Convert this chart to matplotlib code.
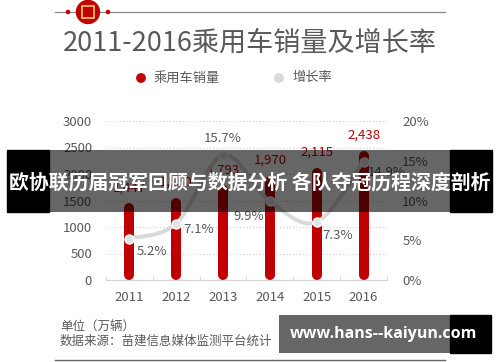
import numpy as np
import matplotlib
matplotlib.use('Agg')
import matplotlib.pyplot as plt
from matplotlib.patches import Rectangle, Circle, PathPatch
from matplotlib.path import Path

plt.rcParams['font.family'] = ['Noto Sans CJK SC', 'DejaVu Sans']

years = ['2011', '2012', '2013', '2014', '2015', '2016']
sales = [1447, 1550, 1793, 1970, 2115, 2438]
sales_labels = ['1,447', '1,550', '1,793', '1,970', '2,115', '2,438']
growth = [5.2, 7.1, 15.7, 9.9, 7.3, 14.9]
left_ticks = [0, 500, 1000, 1500, 2000, 2500, 3000]
right_ticks = [0, 5, 10, 15, 20]

W, H = 500, 362
RED = '#c00000'
GRAY_TXT = '#595959'
LINE_GRAY = '#d4d4d4'

fig = plt.figure(figsize=(5, 3.62), dpi=100)
fig.patch.set_facecolor('white')
inch = fig.dpi_scale_trans


def P(x, y):
    # pixel position (top-left origin) -> inches for dpi_scale_trans
    return x / 100, (H - y) / 100


ax = fig.add_axes([106 / W, 1 - 280 / H, 281 / W, 159 / H])
ax.set_xlim(-0.5, 5.5)
ax.set_ylim(0, 3000)
x = np.arange(len(years))

# bars as thick rounded lines
r = 3000 / 159 * 5
vl = ax.vlines(x, r, np.array(sales) - r, colors=RED, linewidth=7.2, zorder=3)
vl.set_capstyle('round')

for xi, v, lab in zip(x, sales, sales_labels):
    ax.annotate(lab, (xi, v), xytext=(0, 11), textcoords='offset points',
                ha='center', va='center', color=RED, fontsize=9.5,
                fontweight='medium', zorder=5)

ax.set_yticks(left_ticks)
ax.set_xticks(x)
ax.set_xticklabels(years)
ax.set_xticks(np.arange(-0.5, 6, 1), minor=True)
ax.tick_params(axis='y', length=0, pad=10, labelsize=9.5, labelcolor=GRAY_TXT)
ax.tick_params(axis='x', which='major', length=0, pad=8, labelsize=9.5, labelcolor=GRAY_TXT)
ax.tick_params(axis='x', which='minor', length=3, direction='in', color=LINE_GRAY)
ax.grid(axis='y', linestyle=(0, (1, 2)), color='#cfcfcf', linewidth=0.8, zorder=0)
for s in ['top', 'right', 'left']:
    ax.spines[s].set_visible(False)
ax.spines['bottom'].set_color(LINE_GRAY)

# growth line on twin axis
ax2 = ax.twinx()
ax2.set_ylim(0, 20)
ax2.set_yticks(right_ticks)
ax2.set_yticklabels([f'{t}%' for t in right_ticks])
ax2.tick_params(axis='y', length=0, pad=11, labelsize=9.5, labelcolor=GRAY_TXT)
for s in ax2.spines.values():
    s.set_visible(False)

pts = np.column_stack([x, growth]).astype(float)
verts = [tuple(pts[0])]
codes = [Path.MOVETO]
for i in range(len(pts) - 1):
    p0 = pts[max(i - 1, 0)]
    p1 = pts[i]
    p2 = pts[i + 1]
    p3 = pts[min(i + 2, len(pts) - 1)]
    c1 = p1 + (p2 - p0) / 6
    c2 = p2 - (p3 - p1) / 6
    verts += [tuple(c1), tuple(c2), tuple(p2)]
    codes += [Path.CURVE4] * 3
ax2.add_patch(PathPatch(Path(verts, codes), facecolor='none', edgecolor='#d9d9d9',
                        linewidth=2.8, zorder=4))
ax2.plot(x, growth, 'o', markersize=6.5, markerfacecolor='#e3e3e3',
         markeredgecolor='white', markeredgewidth=1, zorder=5)

g_off = [(5, -9, 'left'), (5, -4, 'left'), (0, 12, 'center'),
         (-4, -11, 'right'), (4, -10, 'left'), (3, -8, 'left')]
for xi, g, (dx, dy, ha) in zip(x, growth, g_off):
    ax2.annotate(f'{g}%', (xi, g), xytext=(dx, dy), textcoords='offset points',
                 ha=ha, va='center', color=GRAY_TXT, fontsize=9.5, zorder=6)

# header decoration
fig.add_artist(plt.Line2D([0.55, 4.45], [P(0, 12)[1]] * 2, transform=inch,
                          color='#8a8a8a', linewidth=0.9))
fig.add_artist(Circle(P(88, 12), 0.115, transform=inch, color=RED, zorder=3))
fig.add_artist(Rectangle(P(82, 18), 0.12, 0.12, transform=inch, facecolor='none',
                         edgecolor='#f2c36b', linewidth=1.2, zorder=4))
for dx in [68, 108]:
    fig.add_artist(Circle(P(dx, 12), 0.016, transform=inch, color=RED, zorder=3))

fig.text(250 / W, 1 - 43 / H, '2011-2016乘用车销量及增长率', ha='center', va='center',
         fontsize=19.5, fontweight='medium', color=GRAY_TXT)

# legend
fig.add_artist(Circle(P(141, 78), 0.042, transform=inch, color=RED))
fig.text(154 / W, 1 - 78 / H, '乘用车销量', ha='left', va='center', fontsize=9.5, color=GRAY_TXT)
fig.add_artist(Circle(P(279, 78), 0.042, transform=inch, color='#d9d9d9'))
fig.text(292 / W, 1 - 78 / H, '增长率', ha='left', va='center', fontsize=9.5, color=GRAY_TXT)

# footer
fig.text(60 / W, 1 - 326 / H, '单位（万辆）', ha='left', va='center', fontsize=9, color=GRAY_TXT)
fig.text(60 / W, 1 - 341 / H, '数据来源：苗建信息媒体监测平台统计', ha='left', va='center',
         fontsize=9, color=GRAY_TXT)
fig.add_artist(plt.Line2D([0.55, 4.45], [P(0, 360)[1]] * 2, transform=inch,
                          color='#666666', linewidth=1))

# overlay band
fig.add_artist(Rectangle(P(7, 212), 0.42, 0.62, transform=inch, color='black', zorder=10))
fig.add_artist(Rectangle(P(49, 212), 4.01, 0.62, transform=inch, color='black',
                         alpha=0.6, linewidth=0, zorder=10))
fig.add_artist(Rectangle(P(450, 212), 0.42, 0.62, transform=inch, color='black', zorder=10))
fig.text(250 / W, 1 - 182 / H, '欧协联历届冠军回顾与数据分析 各队夺冠历程深度剖析',
         ha='center', va='center', fontsize=14.3, fontweight='bold', color='white', zorder=11)

# watermark
fig.add_artist(Rectangle(P(279, 353), 1.71, 0.38, transform=inch, color='black',
                         alpha=0.6, linewidth=0, zorder=10))
fig.add_artist(Rectangle(P(450, 353), 0.41, 0.38, transform=inch, color='black', zorder=10))
fig.text(384 / W, 1 - 334 / H, 'www.hans--kaiyun.com', ha='center', va='center',
         fontsize=11.5, fontweight='bold', color='white', family='Open Sans', zorder=11)

fig.savefig('out.png', dpi=100)
